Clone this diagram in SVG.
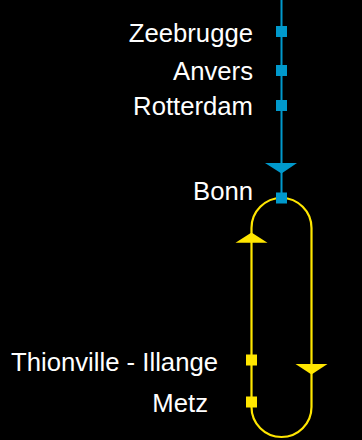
<svg xmlns="http://www.w3.org/2000/svg" width="362" height="440" viewBox="0 0 362 440">
<style>
text{font-family:"Liberation Sans",Arial,sans-serif;font-size:25.7px;fill:#ffffff;text-anchor:end}
.b{fill:#0099cc}
.y{fill:#ffe600}
.bl{stroke:#0099cc;stroke-width:2;fill:none}
.yl{stroke:#ffe600;stroke-width:2.2;fill:none}
</style>
<rect x="0" y="0" width="362" height="440" fill="#000000"/>
<g id="connectors">
<path class="bl" d="M281.5,0 V198"/>
<path class="yl" d="M281.5,198 A30,30 0 0 1 311.5,228 V407 A30,30 0 0 1 251.5,407 V228 A30,30 0 0 1 281.5,198 Z"/>
<polygon class="b" points="265,163 297,163 281.5,173.5"/>
<polygon class="y" points="235.5,242.7 267.5,242.7 251.5,232.5"/>
<polygon class="y" points="295.5,364 327.5,364 311.5,374.5"/>
</g>
<g id="zeebrugge"><rect class="b" x="276" y="26" width="11" height="11"/><text x="253" y="42.3">Zeebrugge</text></g>
<g id="anvers"><rect class="b" x="276" y="65" width="11" height="11"/><text x="253" y="80">Anvers</text></g>
<g id="rotterdam"><rect class="b" x="276" y="100" width="11" height="11"/><text x="253" y="115">Rotterdam</text></g>
<g id="bonn"><rect class="b" x="276" y="192.5" width="11" height="11"/><text x="253" y="200">Bonn</text></g>
<g id="thionville"><rect class="y" x="246" y="354.5" width="11" height="11"/><text x="218" y="370.7">Thionville - Illange</text></g>
<g id="metz"><rect class="y" x="246" y="396.5" width="11" height="11"/><text x="208" y="411.7">Metz</text></g>
</svg>
